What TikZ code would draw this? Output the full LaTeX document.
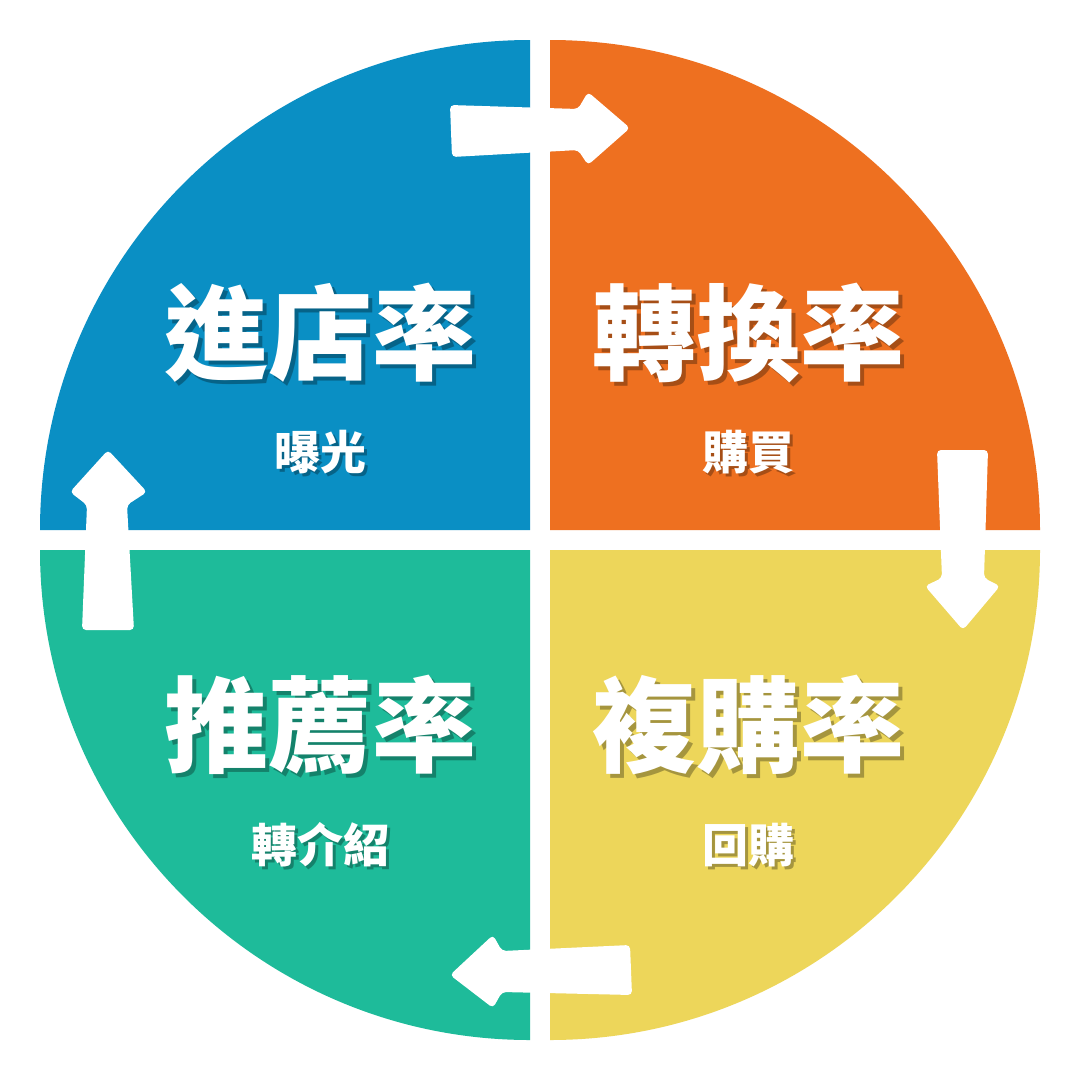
\documentclass[tikz,border=0pt]{standalone}
\usepackage{fontspec}
\newfontfamily\cjk{Noto Sans CJK TC}
\definecolor{qblue}{RGB}{10,143,196}
\definecolor{qorange}{RGB}{238,112,32}
\definecolor{qteal}{RGB}{30,187,154}
\definecolor{qyellow}{RGB}{237,214,90}
\tikzset{every picture/.style={line width=0.75pt},
  bigtxt/.style={text=white,font=\cjk\bfseries\fontsize{104}{110}\selectfont,inner sep=0pt},
  smalltxt/.style={text=white,font=\cjk\bfseries\fontsize{46}{50}\selectfont,inner sep=0pt},
  shadowtxt/.style={text=black,opacity=0.3},
  arrowshape/.style={fill=white,rounded corners=4}}
\begin{document}
\begin{tikzpicture}[x=1pt,y=-1pt]
\useasboundingbox (0,0) rectangle (1080,1080);
\fill[white] (0,0) rectangle (1080,1080);

%Quarters
\fill[qblue] (530,530) -- (40,530) arc (180:270:490) -- cycle;
\fill[qorange] (550,530) -- (550,40) arc (270:360:490) -- cycle;
\fill[qteal] (530,550) -- (530,1040) arc (90:180:490) -- cycle;
\fill[qyellow] (550,550) -- (1040,550) arc (0:90:490) -- cycle;

%Arrows
\fill[arrowshape] (450,105) -- (578,109) -- (588,92) -- (630,128) -- (588,165) -- (578,150) -- (452,157) -- cycle;
\fill[arrowshape] (937,450) -- (988,450) -- (984,578) -- (1000,586) -- (963,630) -- (925,586) -- (942,578) -- cycle;
\fill[arrowshape] (630,945) -- (632,995) -- (502,992) -- (493,1008) -- (450,975) -- (493,935) -- (502,951) -- cycle;
\fill[arrowshape] (82,630) -- (134,630) -- (127,505) -- (147,492) -- (108,450) -- (70,492) -- (87,505) -- cycle;

%Text
\node[bigtxt,shadowtxt] at (324,337) {進店率};
\node[bigtxt] (jin) at (320,333) {進店率};
\node[smalltxt,shadowtxt] at (323,455) {曝光};
\node[smalltxt] (bao) at (320,452) {曝光};
\node[bigtxt,shadowtxt] at (752,337) {轉換率};
\node[bigtxt] (zhuan) at (748,333) {轉換率};
\node[smalltxt,shadowtxt] at (751,455) {購買};
\node[smalltxt] (gou) at (748,452) {購買};
\node[bigtxt,shadowtxt] at (324,729) {推薦率};
\node[bigtxt] (tui) at (320,725) {推薦率};
\node[smalltxt,shadowtxt] at (323,848) {轉介紹};
\node[smalltxt] (jie) at (320,845) {轉介紹};
\node[bigtxt,shadowtxt] at (752,729) {複購率};
\node[bigtxt] (fu) at (748,725) {複購率};
\node[smalltxt,shadowtxt] at (751,848) {回購};
\node[smalltxt] (hui) at (748,845) {回購};
\end{tikzpicture}
\end{document}
